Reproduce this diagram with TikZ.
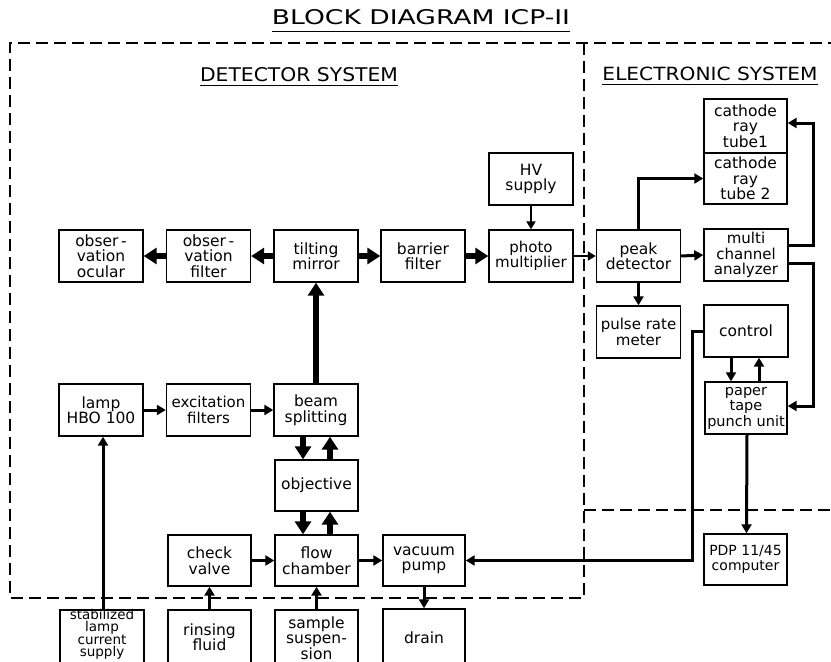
\documentclass[tikz,border=0pt]{standalone}
\usepackage{fontspec}
\usepackage{graphicx}
\setmainfont{DejaVu Sans}
\usetikzlibrary{arrows.meta}
\tikzset{
  blk/.style={draw, line width=1.4pt, minimum width=84pt, minimum height=52pt,
    inner sep=0pt, align=center, font=\fontsize{15.5}{15.5}\selectfont},
  heavy/.style={line width=6.5pt, -{Triangle[length=13pt,width=16pt]}},
  med/.style={line width=3pt, -{Triangle[length=9pt,width=10pt]}},
  thin/.style={line width=2pt, -{Triangle[length=8pt,width=9pt]}},
  frame/.style={line width=1.4pt, dash pattern=on 12pt off 6pt},
  uline/.style={line width=1.3pt},
  heading/.style={inner sep=0pt}
}
\begin{document}
\begin{tikzpicture}[x=1pt,y=-1pt]
\useasboundingbox (0,0) rectangle (831,662);

% headings
\node[heading] (title) at (421,17.5) {\resizebox{298pt}{15pt}{BLOCK DIAGRAM ICP-II}};
\draw[uline] ([yshift=-6pt]title.south west) -- ([yshift=-6pt]title.south east);
\node[heading] (det) at (299,75) {\resizebox{198pt}{14pt}{DETECTOR SYSTEM}};
\draw[uline] ([yshift=-3pt]det.south west) -- ([yshift=-3pt]det.south east);
\node[heading] (ele) at (710,73.5) {\resizebox{215pt}{13.5pt}{ELECTRONIC SYSTEM}};
\draw[uline] ([yshift=-4pt]ele.south west) -- ([yshift=-4pt]ele.south east);

% dashed frames
\draw[frame] (840,43) -- (10,43) -- (10,598) -- (584,598);
\draw[frame] (584,43) -- (584,598);
\draw[frame] (584,510) -- (840,510);

% row 1
\node[blk] (ocular) at (101,256) {obser\,-\\vation\\ocular};
\node[blk] (ofilter) at (208.5,256) {obser\,-\\vation\\filter};
\node[blk] (tilt) at (316,256) {tilting\\mirror};
\node[blk] (barrier) at (423,256) {barrier\\filter};
\node[blk, font=\fontsize{15}{15.5}\selectfont] (photo) at (531,256) {photo\\multiplier};
\node[blk] (peak) at (638.5,256) {peak\\detector};
\node[blk, font=\fontsize{15}{15.5}\selectfont] (mca) at (746,255) {multi\\channel\\analyzer};
\node[blk] (hv) at (531,179) {HV\\supply};
\node[blk, minimum width=83pt, minimum height=54pt] (crt1) at (745.5,126) {cathode\\ray\\tube1};
\node[blk, minimum width=83pt, minimum height=51pt] (crt2) at (745.5,178.5) {cathode\\ray\\tube 2};
\node[blk, font=\fontsize{15}{15.5}\selectfont] (pulse) at (638.5,332) {pulse rate\\meter};
\node[blk] (control) at (746,331) {control};
\node[blk, minimum width=82pt, font=\fontsize{14.5}{15.5}\selectfont] (tape) at (746,408) {paper\\tape\\punch unit};

% row 2
\node[blk] (lamp) at (101,410) {lamp\\HBO 100};
\node[blk, font=\fontsize{15}{15.5}\selectfont] (excit) at (208.5,410) {excitation\\filters};
\node[blk] (beam) at (316,410) {beam\\splitting};
\node[blk, minimum width=83pt, minimum height=51pt] (obj) at (316.5,485.5) {objective};
\node[blk, minimum width=83pt, minimum height=51pt] (flow) at (316.5,560.5) {flow\\chamber};
\node[blk, minimum width=83pt, minimum height=51pt] (check) at (209.5,560.5) {check\\valve};
\node[blk, minimum width=82pt, minimum height=51pt] (vac) at (424,560.5) {vacuum\\pump};
\node[blk, minimum width=83pt, minimum height=51pt, font=\fontsize{14}{15.5}\selectfont] (pdp) at (745.5,559.5) {PDP 11/45\\computer};

% bottom row (cut by the page edge)
\node[blk, minimum height=60pt] (supply) at (102,640) {};
\node[inner sep=0pt, align=center, font=\fontsize{13.5}{12}\selectfont] (supplytext) at (102,634.5) {stabilized\\lamp\\current\\supply};
\node[blk, minimum width=83pt, minimum height=54pt] (rinse) at (209.5,637) {rinsing\\fluid};
\node[blk, minimum width=83pt, minimum height=56pt] (sample) at (316.5,638) {sample\\suspen-\\sion};
\node[blk, minimum width=82pt, minimum height=58pt] (drain) at (424,638) {drain};

% optical paths
\draw[heavy] (tilt.west) -- (ofilter.east);
\draw[heavy] (ofilter.west) -- (ocular.east);
\draw[heavy] (tilt.east) -- (barrier.west);
\draw[heavy] (barrier.east) -- (photo.west);
\draw[heavy] (beam.north) -- (tilt.south);
\draw[heavy] ([xshift=-13pt]beam.south) -- ([xshift=-13pt]beam.south |- obj.north);
\draw[heavy] ([xshift=14pt]beam.south |- obj.north) -- ([xshift=14pt]beam.south);
\draw[heavy] ([xshift=-13pt]beam.south |- obj.south) -- ([xshift=-13pt]beam.south |- flow.north);
\draw[heavy] ([xshift=14pt]beam.south |- flow.north) -- ([xshift=14pt]beam.south |- obj.south);

% other connections
\draw[med] (lamp.east) -- (excit.west);
\draw[med] (excit.east) -- (beam.west);
\draw[med] (check.east) -- (flow.west);
\draw[med] (flow.east) -- (vac.west);
\draw[med] (rinse.north) -- (check.south);
\draw[med] (sample.north) -- (flow.south);
\draw[med] (vac.south) -- (drain.north);
\draw[med] ([xshift=1pt]supply.north) -- ([xshift=1pt]supply.north |- lamp.south);

\draw[thin] (hv.south) -- (photo.north);
\draw[thin] (photo.east) -- (peak.west);
\draw[med] (peak.east) -- (mca.west);
\draw[med] (peak.south) -- (pulse.north);
\draw[med] (peak.north) |- (crt2.west);
\draw[med] ([yshift=10pt]mca.east) -- ++(25,0) |- ([yshift=3pt]crt1.east);
\draw[med] ([yshift=-8pt]mca.east) -- ++(25,0) |- ([yshift=2pt]tape.east);
\draw[med] ([xshift=-15pt]control.south) -- ([xshift=-15pt]tape.north);
\draw[med] ([xshift=13pt]tape.north) -- ([xshift=13pt]control.south);
\draw[med] (control.west) -- ++(-11,0) |- (vac.east);
\draw[med] ([xshift=1pt]tape.south) -- ([xshift=1pt]pdp.north);
\end{tikzpicture}
\end{document}
